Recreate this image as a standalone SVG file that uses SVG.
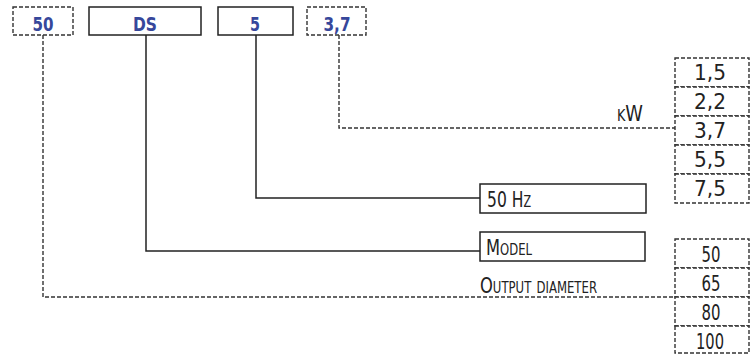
<svg xmlns="http://www.w3.org/2000/svg" width="753" height="354" viewBox="0 0 753 354">
<style>
text{font-family:"DejaVu Sans Condensed","DejaVu Sans","Liberation Sans",sans-serif;font-stretch:condensed;}
.code{font-size:20px;font-weight:bold;fill:#36479b;text-anchor:middle;}
.lbl{font-size:21px;fill:#222;font-variant:small-caps;}
.val{font-size:22px;fill:#222;text-anchor:middle;}
.solid{fill:#fff;stroke:#222;stroke-width:1.5;}
.dash{fill:#fff;stroke:#333;stroke-width:1.4;stroke-dasharray:4 2;}
.cs{fill:none;stroke:#222;stroke-width:1.5;}
.cd{fill:none;stroke:#333;stroke-width:1.4;stroke-dasharray:4 2;}
</style>
<rect width="753" height="354" fill="#fff"/>
<g id="connectors">
<path class="cd" d="M43 35V297H675"/>
<path class="cs" d="M146 35V251H480"/>
<path class="cs" d="M256 35V198H480"/>
<path class="cd" d="M339 35V128H675"/>
</g>
<g id="code-50"><rect class="dash" x="13" y="7" width="60" height="28"/><text class="code" x="43" y="31" textLength="21" lengthAdjust="spacingAndGlyphs">50</text></g>
<g id="code-DS"><rect class="solid" x="89" y="7" width="112" height="28"/><text class="code" x="145" y="31" textLength="24" lengthAdjust="spacingAndGlyphs">DS</text></g>
<g id="code-5"><rect class="solid" x="218" y="7" width="75" height="28"/><text class="code" x="255" y="31" textLength="10" lengthAdjust="spacingAndGlyphs">5</text></g>
<g id="code-37"><rect class="dash" x="307" y="7" width="59" height="28"/><text class="code" x="337" y="31" textLength="27" lengthAdjust="spacingAndGlyphs">3,7</text></g>
<g id="label-kw"><text class="lbl" x="617" y="121" textLength="26" lengthAdjust="spacingAndGlyphs">kW</text></g>
<g id="kw-values">
<rect class="dash" x="675" y="58" width="74" height="29"/><text class="val" x="710" y="80" textLength="32" lengthAdjust="spacingAndGlyphs">1,5</text>
<rect class="dash" x="675" y="87" width="74" height="29"/><text class="val" x="710" y="109" textLength="32" lengthAdjust="spacingAndGlyphs">2,2</text>
<rect class="dash" x="675" y="116" width="74" height="29"/><text class="val" x="710" y="138" textLength="32" lengthAdjust="spacingAndGlyphs">3,7</text>
<rect class="dash" x="675" y="145" width="74" height="29"/><text class="val" x="710" y="167" textLength="32" lengthAdjust="spacingAndGlyphs">5,5</text>
<rect class="dash" x="675" y="174" width="74" height="29"/><text class="val" x="710" y="196" textLength="32" lengthAdjust="spacingAndGlyphs">7,5</text>
</g>
<g id="freq"><rect class="solid" x="480" y="184" width="166" height="29"/><text class="lbl" x="487" y="207" textLength="44" lengthAdjust="spacingAndGlyphs">50 Hz</text></g>
<g id="model"><rect class="solid" x="480" y="232" width="165" height="29"/><text class="lbl" x="486" y="255" textLength="46" lengthAdjust="spacingAndGlyphs">Model</text></g>
<g id="label-output"><text class="lbl" x="480" y="293" textLength="117" lengthAdjust="spacingAndGlyphs">Output diameter</text></g>
<g id="dia-values">
<rect class="dash" x="675" y="239" width="74" height="29"/><text class="val" x="711" y="262" textLength="19" lengthAdjust="spacingAndGlyphs">50</text>
<rect class="dash" x="675" y="268" width="74" height="29"/><text class="val" x="711" y="291" textLength="19" lengthAdjust="spacingAndGlyphs">65</text>
<rect class="dash" x="675" y="297" width="74" height="29"/><text class="val" x="711" y="320" textLength="19" lengthAdjust="spacingAndGlyphs">80</text>
<rect class="dash" x="675" y="326" width="74" height="27"/><text class="val" x="710" y="349" textLength="28" lengthAdjust="spacingAndGlyphs">100</text>
</g>
</svg>
